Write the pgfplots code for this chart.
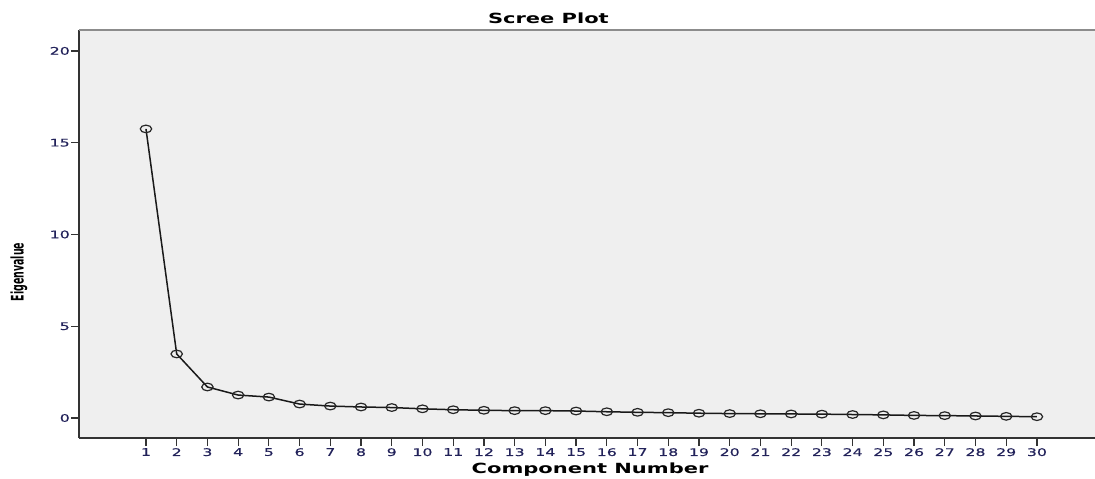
\documentclass[border=0pt]{standalone}
\usepackage{pgfplots}
\pgfplotsset{compat=1.18}
\usepackage{fontspec}
\setmainfont{DejaVu Sans}
\newfontfamily\widefont[FakeStretch=1.5]{DejaVu Sans}
\newfontfamily\tickfont[FakeStretch=1.5,FakeBold=0.4]{DejaVu Sans}
\newfontfamily\condfont{DejaVu Sans Condensed}
\definecolor{bgc}{HTML}{EFEFEF}
\definecolor{tickc}{HTML}{22225A}
\begin{document}
\begin{tikzpicture}
\begin{axis}[
  scale only axis,
  width=1016pt, height=408pt,
  xmin=-1.18, xmax=31.89,
  ymin=-1.09, ymax=21.14,
  axis x line*=bottom, axis y line*=left,
  axis line style={draw=black!80, line width=1.3pt, -},
  axis background/.style={fill=bgc},
  xtick={1,...,30}, ytick={0,5,10,15,20},
  tick align=outside,
  major tick length=8pt,
  tick style={draw=black!80, line width=1.2pt},
  /pgf/number format/assume math mode=true,
  tick label style={font=\tickfont\fontsize{10.5}{12}\selectfont, text=tickc},
  xticklabel style={inner sep=1pt, yshift=-1pt},
  yticklabel style={inner sep=1pt},
  title={\widefont\bfseries\fontsize{14}{16}\selectfont Scree Plot},
  title style={at={(rel axis cs:0.462,1)}, anchor=base},
  xlabel={\widefont\bfseries\fontsize{14}{16}\selectfont Component Number},
  xlabel style={at={(rel axis cs:0.503,0)}, anchor=base, yshift=-35pt},
  ylabel={\scalebox{1}[1.65]{\condfont\bfseries\fontsize{10.5}{12}\selectfont Eigenvalue}},
  ylabel style={at={(rel axis cs:0,0.407)}, anchor=center, yshift=60pt},
  extra description/.code={\draw[draw=black!45, line width=1.2pt] (rel axis cs:0,1) -- (rel axis cs:1,1);},
  clip=false,
]
\addplot[black!90, line width=1.5pt, mark=o, mark size=3.8pt,
  mark options={xscale=1.5, solid, draw=black!85, line width=1.2pt, fill=none}]
coordinates {
(1,15.75) (2,3.49) (3,1.69) (4,1.25) (5,1.14) (6,0.76) (7,0.65) (8,0.60) (9,0.57) (10,0.50)
(11,0.45) (12,0.42) (13,0.40) (14,0.40) (15,0.38) (16,0.34) (17,0.31) (18,0.29) (19,0.26) (20,0.24)
(21,0.23) (22,0.22) (23,0.21) (24,0.19) (25,0.17) (26,0.14) (27,0.13) (28,0.11) (29,0.09) (30,0.07)
};
\end{axis}
\pgfresetboundingbox
\path ([shift={(-79pt,-40pt)}]current axis.south west) rectangle ([shift={(0pt,30pt)}]current axis.north east);
\end{tikzpicture}
\end{document}
